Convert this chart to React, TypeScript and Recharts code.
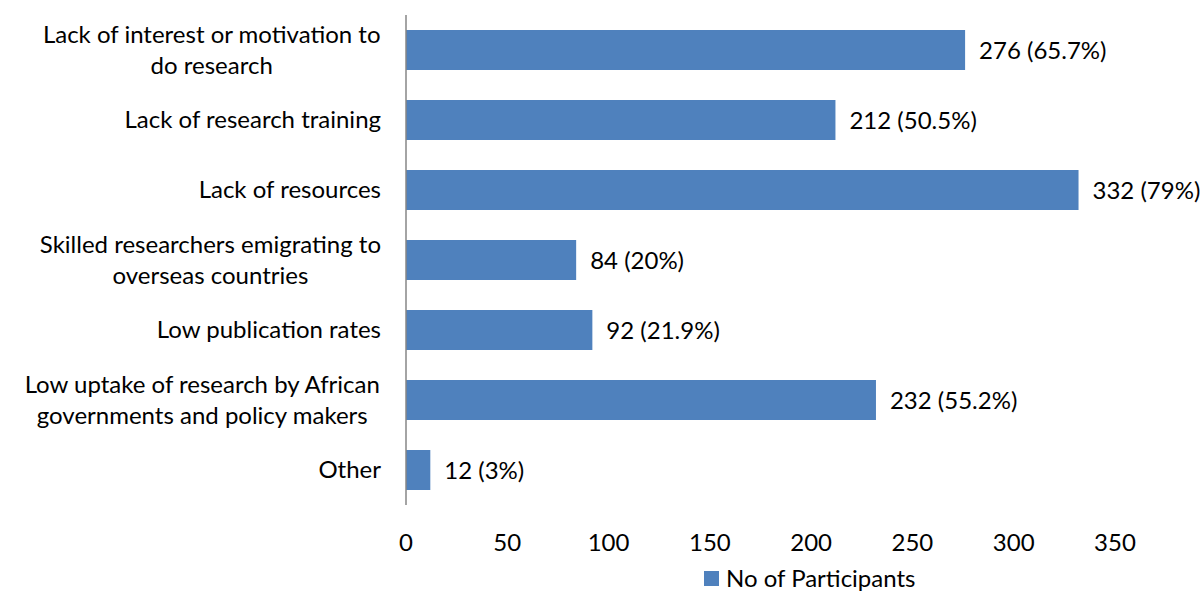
import { BarChart, Bar, XAxis, YAxis, Legend, LabelList } from 'recharts'

const categories = [
  'Lack of interest or motivation to\ndo research',
  'Lack of research training',
  'Lack of resources',
  'Skilled researchers emigrating to\noverseas countries',
  'Low publication rates',
  'Low uptake of research by African\ngovernments and policy makers',
  'Other',
]
const participants = [276, 212, 332, 84, 92, 232, 12]
const percents = ['65.7%', '50.5%', '79%', '20%', '21.9%', '55.2%', '3%']
const xTicks = [0, 50, 100, 150, 200, 250, 300, 350]

const FONT = 'Lato, "Open Sans", sans-serif'
const FONT_SIZE = 24
const BAR_COLOR = '#4f81bd'

const data = categories.map((name, i) => ({
  name,
  value: participants[i],
  label: `${participants[i]} (${percents[i]})`,
}))

let ctx: CanvasRenderingContext2D | null = null
function textWidth(s: string) {
  if (!ctx) ctx = document.createElement('canvas').getContext('2d')
  if (!ctx) return s.length * 11
  ctx.font = `${FONT_SIZE}px Lato`
  return ctx.measureText(s).width
}

// multi-line labels: block is right-aligned to the axis, lines centred inside it
function CategoryTick({ x, y, payload }: any) {
  const lines = String(payload.value).split('\n')
  const lineH = 31
  const blockW = Math.max(...lines.map(textWidth))
  const cx = x - blockW / 2
  const startY = y - ((lines.length - 1) * lineH) / 2
  return (
    <g>
      {lines.map((line, i) => (
        <text
          key={i}
          x={lines.length > 1 ? cx : x}
          y={startY + i * lineH}
          dy="0.35em"
          textAnchor={lines.length > 1 ? 'middle' : 'end'}
          fill="#000"
          fontSize={FONT_SIZE}
          fontFamily={FONT}
        >
          {line}
        </text>
      ))}
    </g>
  )
}

function LegendContent() {
  return (
    <div style={{ display: 'flex', alignItems: 'center', height: 26, lineHeight: '26px', fontFamily: FONT, fontSize: FONT_SIZE, color: '#000' }}>
      <span style={{ display: 'inline-block', width: 15, height: 15, background: BAR_COLOR, marginRight: 7 }} />
      <span>No of Participants</span>
    </div>
  )
}

export default function App() {
  return (
    <div style={{ position: 'absolute', left: 0, top: 0, background: '#fff' }}>
      <BarChart
        width={1203}
        height={591}
        data={data}
        layout="vertical"
        margin={{ top: 15, right: 88, bottom: 0, left: 0 }}
        barCategoryGap={15}
      >
        <XAxis
          type="number"
          domain={[0, 350]}
          ticks={xTicks}
          axisLine={false}
          tickLine={false}
          tickSize={0}
          tickMargin={29}
          height={60}
          tick={{ fill: '#000', fontSize: FONT_SIZE, fontFamily: FONT }}
        />
        <YAxis
          type="category"
          dataKey="name"
          width={406}
          axisLine={{ stroke: '#868686', strokeWidth: 1.5 }}
          tickLine={false}
          tickSize={0}
          tickMargin={25}
          tick={<CategoryTick />}
          interval={0}
        />
        <Legend
          verticalAlign="bottom"
          content={<LegendContent />}
          wrapperStyle={{ left: 704, width: 320, height: 26, bottom: 0 }}
        />
        <Bar dataKey="value" name="No of Participants" fill={BAR_COLOR} barSize={40} isAnimationActive={false}>
          <LabelList
            dataKey="label"
            position="right"
            offset={14}
            fill="#000"
            fontSize={FONT_SIZE}
            fontFamily={FONT}
          />
        </Bar>
      </BarChart>
    </div>
  )
}
